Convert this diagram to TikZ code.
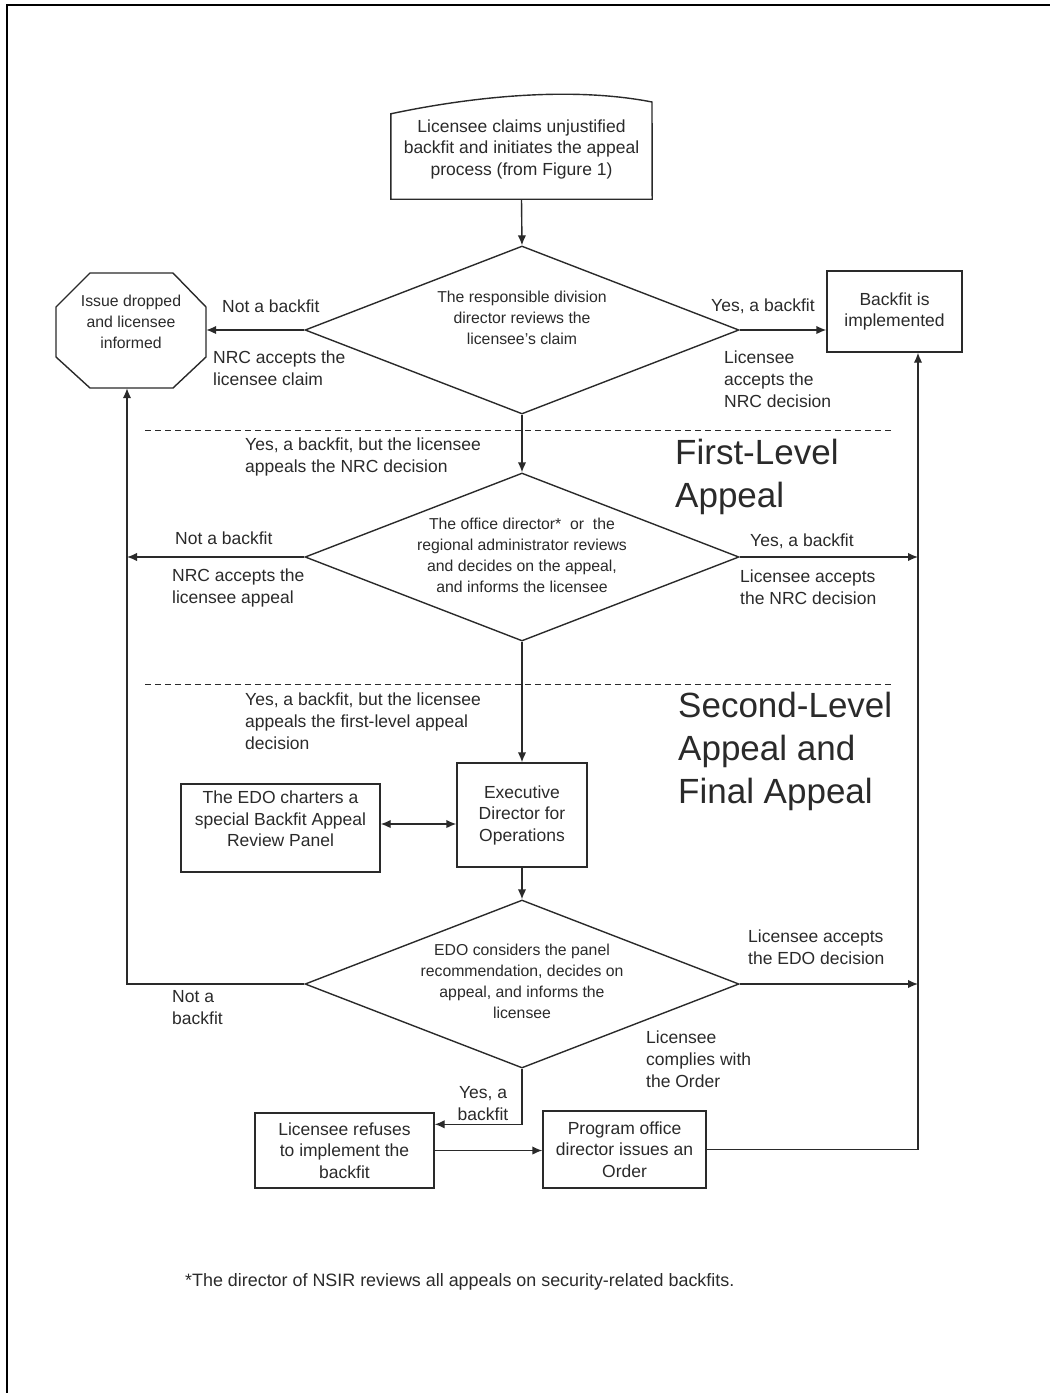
\documentclass[tikz,border=0pt]{standalone}
\usepackage{fontspec}
\setmainfont{Liberation Sans}
\usetikzlibrary{arrows.meta,shapes.geometric}
\newcommand\fsz[2]{\fontsize{#1}{#2}\selectfont}
\definecolor{ink}{HTML}{2A2A2A}
\begin{document}
\begin{tikzpicture}[x=1pt,y=-1pt,
  ln/.style={draw=ink,line width=1.4pt},
  arr/.style={ln,-{Latex[length=10pt,width=8.5pt]}},
  darr/.style={ln,{Latex[length=10pt,width=8.5pt]}-{Latex[length=10pt,width=8.5pt]}},
  box/.style={ln,rectangle,inner sep=0pt,align=center,text=ink,font=\fsz{17.5}{21.5}},
  ghost/.style={rectangle,inner sep=0pt,draw=none},
  txt/.style={inner sep=0pt,align=center,text=ink,font=\fsz{17.5}{21.5}},
  dia/.style={ln,diamond,inner sep=0pt,minimum width=434pt,minimum height=168pt},
  dtxt/.style={inner sep=0pt,align=center,text=ink,font=\fsz{15.8}{21}},
  lbl/.style={inner sep=0pt,align=left,anchor=base west,text=ink,font=\fsz{17.5}{22}},
  ttl/.style={inner sep=0pt,align=left,anchor=base west,text=ink,font=\fsz{35}{43}},
  dsh/.style={draw=ink,line width=1pt,dash pattern=on 6pt off 4pt}
]
\useasboundingbox (0,0) rectangle (1050,1393);
\draw[line width=2pt] (7,1393) -- (7,5) -- (1050,5);

% top document box
\node[ghost,minimum width=261pt,minimum height=85pt] (topbox) at (521.5,156.5) {};
\draw[ln] (topbox.north west) .. controls (470,97) and (570,86) .. (652,102) -- (topbox.south east) -- (topbox.south west) -- cycle;
\node[txt] (toptxt) at (521.5,149) {Licensee claims unjustified\\backfit and initiates the appeal\\process (from Figure 1)};

% octagon
\node[ghost,minimum width=150pt,minimum height=115pt] (oct) at (131,330.5) {};
\draw[ln] (90,273) -- (173,273) -- (206,307) -- (206,357) -- (173,388) -- (90,388) -- (56,357) -- (56,307) -- cycle;
\node[dtxt] (octtxt) at (131,322) {Issue dropped\\and licensee\\informed};

% backfit implemented
\node[box,minimum width=135pt,minimum height=81pt] (bfi) at (894.5,311.5) {Backfit is\\implemented};

% diamonds
\node[dia] (d1) at (522,330) {};
\node[dtxt] (d1t) at (522,318) {The responsible division\\director reviews the\\licensee's claim};
\node[dia] (d2) at (522,557) {};
\node[dtxt] (d2t) at (522,555) {The office director*\ \ or\ \ the\\regional administrator reviews\\and decides on the appeal,\\and informs the licensee};
\node[dia] (d3) at (522,984) {};
\node[dtxt] (d3t) at (522,981.5) {EDO considers the panel\\recommendation, decides on\\appeal, and informs the\\licensee};

% boxes
\node[box,minimum width=130pt,minimum height=104pt] (edo) at (522,815) {Executive\\Director for\\Operations};
\node[box,minimum width=199pt,minimum height=88pt] (panel) at (280.5,828) {};
\node[txt] (pantxt) at (280.5,819) {The EDO charters a\\special Backfit Appeal\\Review Panel};
\node[box,minimum width=179pt,minimum height=75pt] (ref) at (344.5,1150.5) {Licensee refuses\\to implement the\\backfit};
\node[box,minimum width=163pt,minimum height=77pt] (prog) at (624.5,1149.5) {Program office\\director issues an\\Order};

% rails
\coordinate (rrail) at ([xshift=23.5pt]bfi.south);
\coordinate (lrail) at ([xshift=-4pt]oct.south);

% connectors
\draw[arr] (topbox.south) -- (d1.north);
\draw[arr] (d1.west) -- (d1.west -| oct.east);
\draw[arr] (d1.east) -- (d1.east -| bfi.west);
\draw[arr] (d1.south) -- (d2.north);
\draw[arr] (d2.west) -- (d2.west -| lrail);
\draw[arr] (d2.east) -- (d2.east -| rrail);
\draw[arr] (d2.south) -- (edo.north);
\draw[darr] ([yshift=4pt]panel.east) -- ([yshift=-9pt]edo.west);
\draw[arr] (edo.south) -- (d3.north);
\draw[arr] (d3.west) -| (lrail);
\draw[arr] (d3.east) -- (d3.east -| rrail);
\draw[arr] (d3.south) |- ([yshift=-12pt]ref.north east);
\draw[arr] (ref.east) -- (ref.east -| prog.west);
\draw[arr] (prog.east) -| (rrail);

% dashed separators
\draw[dsh] (145,430) -- (893,430);
\draw[dsh] (145,684) -- (893,684);

% labels (anchor = baseline of the last line)
\node[lbl] (l1) at (222,312) {Not a backfit};
\node[lbl] (l2) at (213,385) {NRC accepts the\\licensee claim};
\node[lbl] (l3) at (711,311) {Yes, a backfit};
\node[lbl] (l4) at (724,407) {Licensee\\accepts the\\NRC decision};
\node[lbl] (l5) at (245,472) {Yes, a backfit, but the licensee\\appeals the NRC decision};
\node[lbl] (l6) at (175,544) {Not a backfit};
\node[lbl] (l7) at (172,603) {NRC accepts the\\licensee appeal};
\node[lbl] (l8) at (750,546) {Yes, a backfit};
\node[lbl] (l9) at (740,604) {Licensee accepts\\the NRC decision};
\node[lbl] (l10) at (245,749) {Yes, a backfit, but the licensee\\appeals the first-level appeal\\decision};
\node[lbl] (l11) at (172,1024) {Not a\\backfit};
\node[lbl] (l12) at (748,964) {Licensee accepts\\the EDO decision};
\node[lbl] (l13) at (646,1087) {Licensee\\complies with\\the Order};
\node[inner sep=0pt,align=center,anchor=base,text=ink,font=\fsz{17.5}{22}] (l14) at (483,1120) {Yes, a\\backfit};

% titles
\node[ttl] (t1) at (675,507) {First-Level\\Appeal};
\node[ttl] (t2) at (678,803) {Second-Level\\Appeal and\\Final Appeal};

% footnote
\node[inner sep=0pt,anchor=base west,text=ink,font=\fsz{17.9}{22}] (fn) at (185,1286) {*The director of NSIR reviews all appeals on security-related backfits.};
\end{tikzpicture}
\end{document}
